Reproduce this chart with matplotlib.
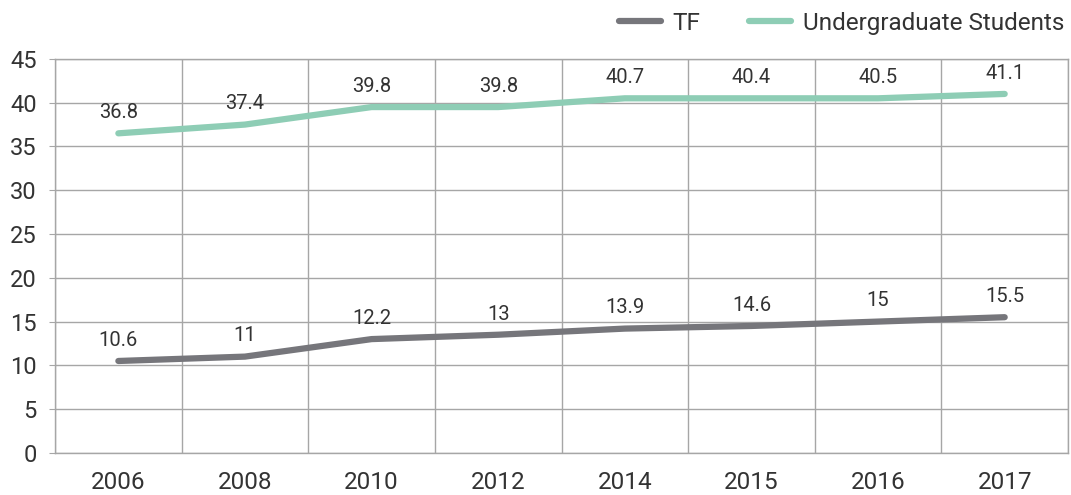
import numpy as np
import matplotlib
matplotlib.use('Agg')
import matplotlib.pyplot as plt

plt.rcParams['font.family'] = ['Roboto', 'DejaVu Sans']

# Data
years = ['2006', '2008', '2010', '2012', '2014', '2015', '2016', '2017']
tf_line = [10.5, 11.0, 13.0, 13.5, 14.2, 14.5, 15.0, 15.5]
tf_labels = ['10.6', '11', '12.2', '13', '13.9', '14.6', '15', '15.5']
ug_line = [36.5, 37.5, 39.5, 39.5, 40.5, 40.5, 40.5, 41.0]
ug_labels = ['36.8', '37.4', '39.8', '39.8', '40.7', '40.4', '40.5', '41.1']

tf_color = '#76767b'
ug_color = '#8ecdb5'
grid_color = '#a6a6a6'
text_color = '#333333'

fig = plt.figure(figsize=(10.71, 4.95), dpi=100)
ax = fig.add_axes([0.0514, 0.085, 0.9458, 0.796])

x = np.arange(len(years))
ax.plot(x, tf_line, color=tf_color, lw=4.5, solid_capstyle='round', label='TF', zorder=3)
ax.plot(x, ug_line, color=ug_color, lw=4.5, solid_capstyle='round',
        label='Undergraduate Students', zorder=3)

# value labels sit just above each point
for xi, yv, lab in zip(x, tf_line, tf_labels):
    ax.annotate(lab, (xi, yv), xytext=(0, 8), textcoords='offset points',
                ha='center', va='bottom', fontsize=14.5, color=text_color)
for xi, yv, lab in zip(x, ug_line, ug_labels):
    ax.annotate(lab, (xi, yv), xytext=(0, 8), textcoords='offset points',
                ha='center', va='bottom', fontsize=14.5, color=text_color)

ax.set_xlim(-0.5, len(years) - 0.5)
ax.set_ylim(0, 45)
ax.set_yticks(np.arange(0, 46, 5))
ax.set_xticks(x)
ax.set_xticklabels(years)
ax.set_xticks(np.arange(-0.5, len(years), 1), minor=True)

ax.grid(axis='y', which='major', color=grid_color, lw=1)
ax.grid(axis='x', which='minor', color=grid_color, lw=1)
ax.set_axisbelow(True)

for s in ax.spines.values():
    s.set_color(grid_color)
    s.set_linewidth(1)

ax.tick_params(axis='x', which='both', length=0, pad=13, labelsize=17.5, labelcolor=text_color)
ax.tick_params(axis='y', length=4, color=grid_color, pad=9, labelsize=17, labelcolor=text_color)

fig.legend(loc='upper right', bbox_to_anchor=(1.014, 1.02), ncol=2, frameon=False,
           fontsize=17.5, handlelength=1.7, columnspacing=2.0, handletextpad=0.5,
           labelcolor=text_color)

fig.savefig('out.png', dpi=100)
